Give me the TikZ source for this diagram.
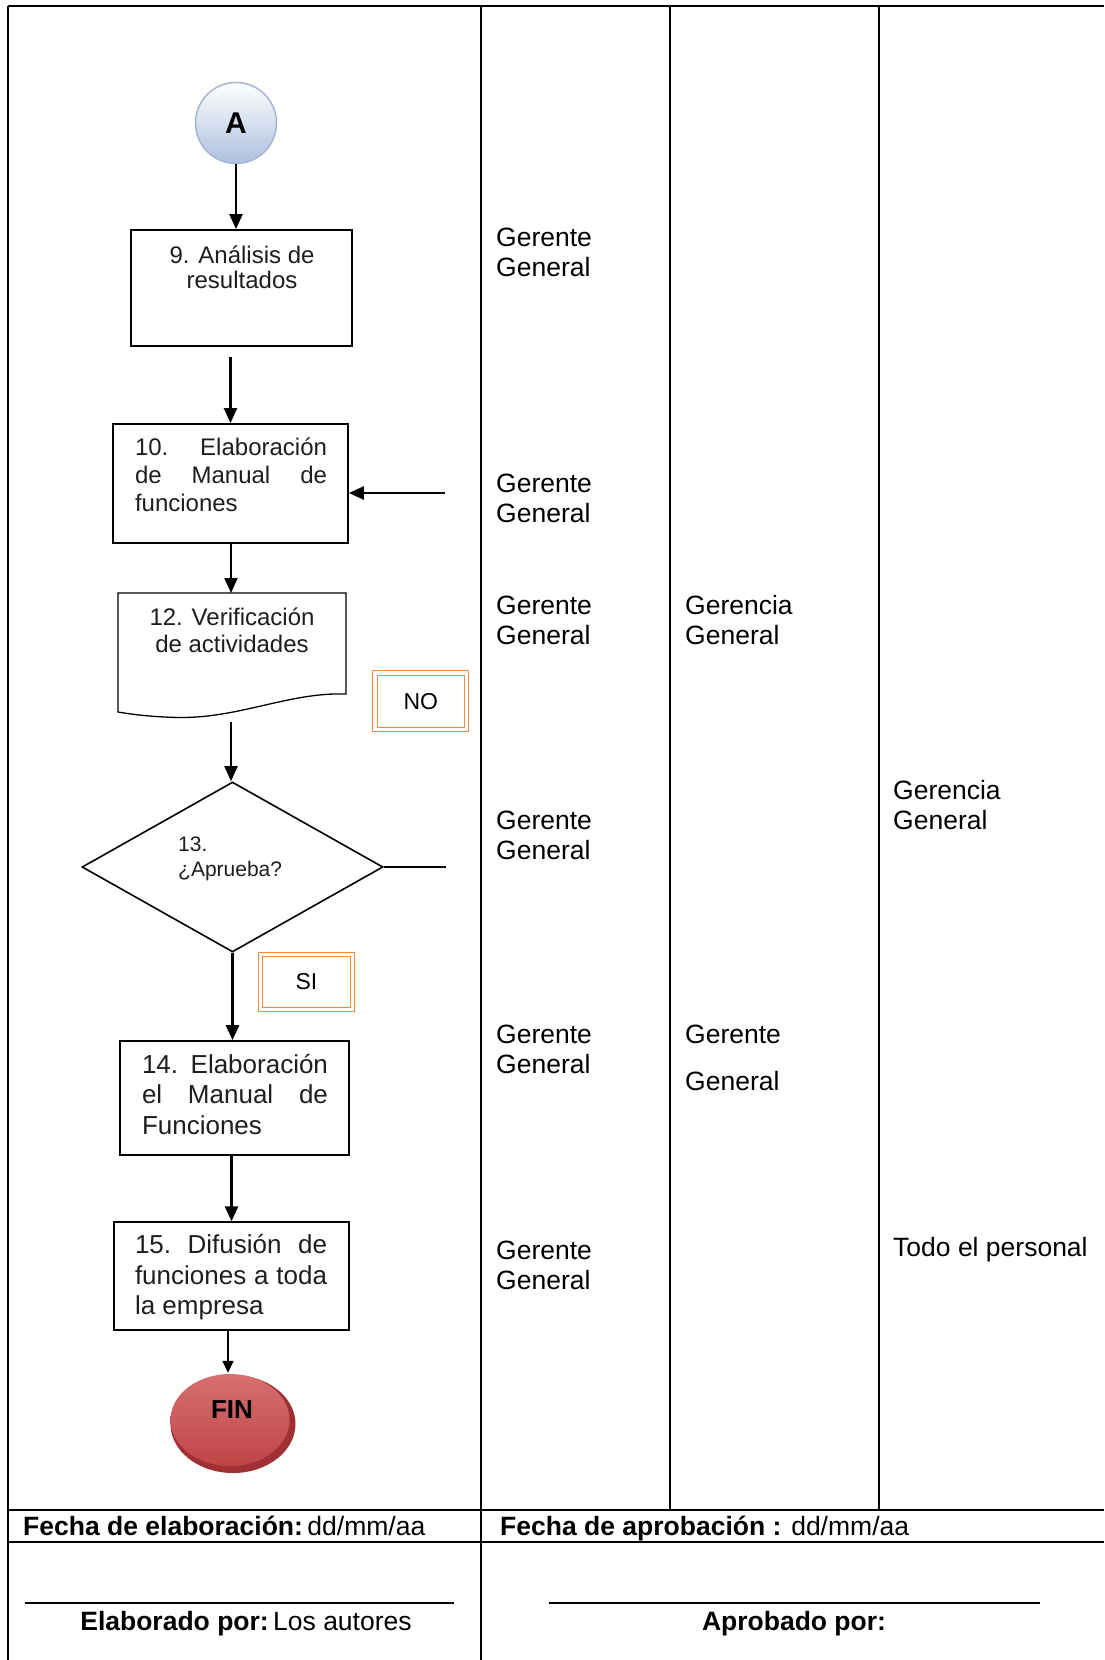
\documentclass[tikz,border=0pt]{standalone}
\usepackage{fontspec}
\setmainfont{Liberation Sans}
\usetikzlibrary{shapes.geometric,arrows.meta}
\definecolor{orng}{RGB}{240,140,60}
\definecolor{txtgray}{RGB}{30,30,30}
\definecolor{aedge}{RGB}{165,182,210}
\definecolor{abot}{RGB}{172,192,222}
\definecolor{fintop}{RGB}{214,112,112}
\definecolor{finbot}{RGB}{192,68,70}
\definecolor{finrim}{RGB}{160,48,52}
\begin{document}
\begin{tikzpicture}[x=1pt,y=-1pt,
  grid/.style={line width=1.8pt, black},
  box/.style={draw, line width=1.8pt, rectangle, inner sep=0pt},
  arr/.style={line width=2.4pt, -{Triangle[width=13pt,length=15pt]}},
  arrsmall/.style={line width=1.6pt, -{Triangle[width=11pt,length=12pt]}},
  lbl/.style={font=\fontsize{26.5}{30}\selectfont, align=left, inner sep=0pt, anchor=west},
  foot/.style={font=\fontsize{26.5}{30}\selectfont, inner sep=0pt},
  t24/.style={font=\fontsize{24}{26}\selectfont, text=txtgray, inner sep=0pt},
  t26/.style={font=\fontsize{26}{30.5}\selectfont, text=txtgray, inner sep=0pt, align=left},
  tag/.style={draw=orng, double=white, double distance=3.5pt, line width=1pt, rectangle, inner sep=0pt,
              font=\fontsize{23}{25}\selectfont}
]
\useasboundingbox[fill=white] (0,0) rectangle (1104,1660);

% ---- table grid ----
\draw[grid] (8,6) -- (1104,6);
\draw[grid] (8,6) -- (8,1660);
\draw[grid] (481,6) -- (481,1660);
\draw[grid] (670,6) -- (670,1510);
\draw[grid] (879,6) -- (879,1510);
\draw[grid] (8,1510) -- (1104,1510);
\draw[grid] (8,1542) -- (1104,1542);

% ---- flowchart ----
\node[circle, minimum size=81pt, inner sep=0pt, draw=aedge, line width=1.5pt,
      top color=white, bottom color=abot, font=\fontsize{30}{30}\selectfont\bfseries] (A) at (236,123) {A};

\node[box, minimum width=221pt, minimum height=116pt] (b9) at (241.5,288) {};
\node[t24, align=center, font=\fontsize{24}{25}\selectfont] (t9) at (242,267.5) {9. Análisis de\\resultados};

\node[box, minimum width=235pt, minimum height=119pt] (b10) at (230.5,483.5) {};
\node[t24, align=left, font=\fontsize{24}{28}\selectfont] (t10) at (231,475)
  {\makebox[192pt][s]{10.\ Elaboración}\\\makebox[192pt][s]{de Manual de}\\funciones};

% document shape 12
\coordinate (b12top) at (231,593);
\draw[line width=1.3pt] (118,593) -- (346,593) -- (346,694)
   .. controls (290,692) and (240,718) .. (180,717.5)
   .. controls (150,717) and (130,714) .. (118,712) -- cycle;
\node[t24, align=center, font=\fontsize{24}{27}\selectfont] (t12) at (232,630.5) {12. Verificación\\de actividades};
\coordinate (b12out) at (231,722);

\node[tag, minimum width=91.5pt, minimum height=56.5pt] (no) at (420.75,701.25) {NO};

\node[diamond, draw, line width=1.6pt, minimum width=301pt, minimum height=170pt, inner sep=0pt] (d13) at (232.5,867) {};
\node[inner sep=0pt, align=left, anchor=west, font=\fontsize{21}{25}\selectfont, text=txtgray] (t13) at (178,859) {13.\\¿Aprueba?};
\coordinate (noout) at (446,867);
\coordinate (noin) at (445,493);

\node[tag, minimum width=92pt, minimum height=55pt] (si) at (306.5,982) {SI};

\node[box, minimum width=229pt, minimum height=114pt] (b14) at (234.5,1098) {};
\node[t26] (t14) at (235,1094.5)
  {\makebox[186pt][s]{14.\ Elaboración}\\\makebox[186pt][s]{el Manual de}\\Funciones};

\node[box, line width=1.3pt, minimum width=235pt, minimum height=108pt] (b15) at (231.5,1276) {};
\node[t26] (t15) at (231,1277.5)
  {\makebox[192pt][s]{15.\ Difusión de}\\\makebox[192pt][s]{funciones a toda}\\la empresa};

% FIN
\node[ellipse, minimum width=125pt, minimum height=98pt, fill=finrim, inner sep=0pt] (finsh) at (233,1424) {};
\node[ellipse, minimum width=119pt, minimum height=92pt, inner sep=0pt,
      top color=fintop, bottom color=finbot] (fin) at (230,1420) {};
\node[inner sep=0pt, font=\fontsize{26}{26}\selectfont\bfseries] (fintxt) at (232,1410) {FIN};

% ---- connectors ----
\draw[arr] (A.south) -- (A.south |- b9.north);
\draw[arr] ([yshift=-10pt]b9.south -| b10.north) -- (b10.north);
\draw[arr, line width=2.8pt] (noin) -- (noin -| b10.east);
\draw[arr, line width=2pt] (b10.south -| b12top) -- (b12top);
\draw[arr, line width=1.8pt] (b12out) -- (b12out |- d13.north);
\draw[line width=1.5pt] (d13.east) -- (noout);
\draw[arr, line width=3pt] (d13.south) -- (d13.south |- b14.north);
\draw[arr] ([xshift=-3pt]b14.south) -- ([xshift=-3pt]b14.south |- b15.north);
\draw[arrsmall] ([xshift=-3.5pt]b15.south) -- ([xshift=-3.5pt,yshift=2pt]b15.south |- finsh.north);

% ---- column labels ----
\node[lbl] (g1) at (496,252.5) {Gerente\\General};
\node[lbl] (g2) at (496,498) {Gerente\\General};
\node[lbl] (g3) at (496,620.5) {Gerente\\General};
\node[lbl] (g4) at (496,835.5) {Gerente\\General};
\node[lbl] (g5) at (496,1049.5) {Gerente\\General};
\node[lbl] (g6) at (496,1265.5) {Gerente\\General};
\node[lbl] (c1) at (685,620.5) {Gerencia\\General};
\node[lbl] (c2) at (685,1057.5) {Gerente\\[17pt]General};
\node[lbl] (d1) at (893,805) {Gerencia\\General};
\node[lbl] (d2) at (893,1250) {Todo el personal};

% ---- footer ----
\node[foot, anchor=base west] (fe) at (23,1535) {\textbf{Fecha de elaboración:}\,dd/mm/aa};
\node[foot, anchor=base west] (fa) at (500,1535) {\textbf{Fecha de aprobación :} dd/mm/aa};
\coordinate (s1a) at (25,1603);
\coordinate (s1b) at (454,1603);
\coordinate (s2a) at (549,1603);
\coordinate (s2b) at (1040,1603);
\draw[line width=1.8pt] (s1a) -- (s1b);
\draw[line width=1.8pt] (s2a) -- (s2b);
\node[foot, anchor=base] (el) at (246,1630) {\textbf{Elaborado por:}\,Los autores};
\node[foot, anchor=base] (ap) at (794,1630) {\textbf{Aprobado por:}};
\end{tikzpicture}
\end{document}
